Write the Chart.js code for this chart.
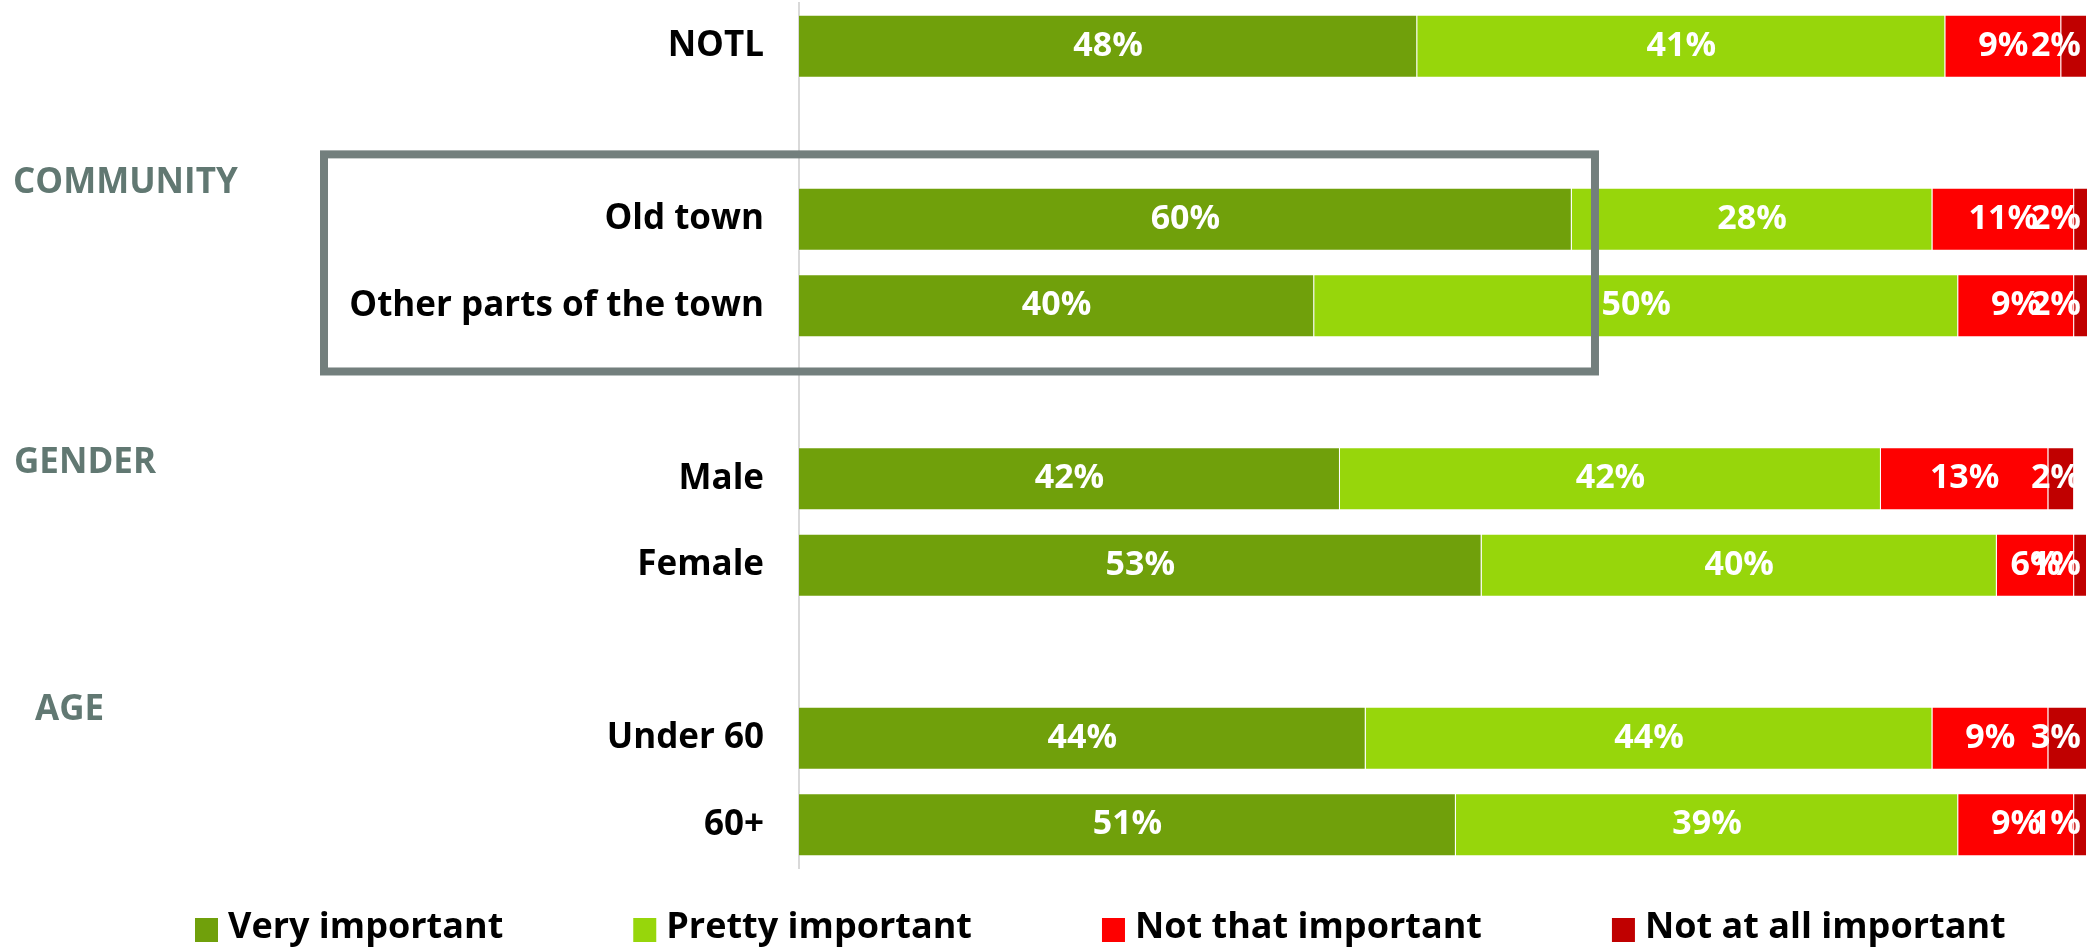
<!DOCTYPE html>
<html>
<head>
<meta charset="utf-8">
<title>Importance by group</title>
<script src="https://cdn.jsdelivr.net/npm/chart.js@4.4.1/dist/chart.umd.min.js"></script>
<style>
  html, body { margin: 0; padding: 0; background: #fff; }
  #wrap { position: relative; width: 2087px; height: 947px; }
</style>
</head>
<body>
<div id="wrap"><canvas id="importanceChart"></canvas></div>
<script>
// rows of the chart, blank entries leave a gap between groups
const categories = ['NOTL', '', 'Old town', 'Other parts of the town', '', 'Male', 'Female', '', 'Under 60', '60+'];

const seriesNames = ['Very important', 'Pretty important', 'Not that important', 'Not at all important'];
const veryImportant = [48, null, 60, 40, null, 42, 53, null, 44, 51];
const prettyImportant = [41, null, 28, 50, null, 42, 40, null, 44, 39];
const notThatImportant = [9, null, 11, 9, null, 13, 6, null, 9, 9];
const notAtAllImportant = [2, null, 2, 2, null, 2, 1, null, 3, 1];
const seriesColors = ['#70a00b', '#97d60b', '#fe0000', '#c00000'];

// group headings placed on the category scale (index units)
const groupNames = ['COMMUNITY', 'GENDER', 'AGE'];
const groupAt = [1.58, 4.815, 7.67];
const groupLeft = [13, 14, 35];

const FONT = '"Open Sans", "DejaVu Sans", sans-serif';

const valueLabels = {
  id: 'valueLabels',
  afterDatasetsDraw(chart) {
    const ctx = chart.ctx;
    const area = chart.chartArea;
    ctx.save();
    ctx.font = '700 34px ' + FONT;
    ctx.fillStyle = '#ffffff';
    ctx.textAlign = 'center';
    ctx.textBaseline = 'middle';
    chart.data.datasets.forEach((ds, di) => {
      const meta = chart.getDatasetMeta(di);
      meta.data.forEach((bar, i) => {
        const v = ds.data[i];
        if (v == null) return;
        const txt = v + '%';
        const w = ctx.measureText(txt).width;
        let x = (bar.x + bar.base) / 2;
        x = Math.min(x, area.right - 6 - w / 2);
        ctx.fillText(txt, x, bar.y);
      });
    });
    ctx.restore();
  }
};

const groupFrame = {
  id: 'groupFrame',
  afterDatasetsDraw(chart) {
    const ctx = chart.ctx;
    const y = chart.scales.y;
    const x = chart.scales.x;
    const top = y.getPixelForValue(1.25);
    const bottom = y.getPixelForValue(3.76);
    const left = 324;
    const right = x.getPixelForValue(61.8);
    ctx.save();
    ctx.strokeStyle = '#737f7d';
    ctx.lineWidth = 8;
    ctx.strokeRect(left, top, right - left, bottom - top);

    ctx.font = '700 35px ' + FONT;
    ctx.fillStyle = '#617872';
    ctx.textAlign = 'left';
    ctx.textBaseline = 'middle';
    groupNames.forEach((name, i) => {
      ctx.fillText(name, groupLeft[i], y.getPixelForValue(groupAt[i]));
    });
    ctx.restore();
  }
};

const bottomLegend = {
  id: 'bottomLegend',
  afterDraw(chart) {
    const ctx = chart.ctx;
    ctx.save();
    ctx.font = '700 36px ' + FONT;
    ctx.textAlign = 'left';
    ctx.textBaseline = 'alphabetic';
    let cx = 195;
    chart.data.datasets.forEach((ds) => {
      ctx.fillStyle = ds.backgroundColor;
      ctx.fillRect(cx, 918, 23, 24);
      ctx.fillStyle = '#000000';
      ctx.fillText(ds.label, cx + 33, 938);
      cx += 33 + ctx.measureText(ds.label).width + 130;
    });
    ctx.restore();
  }
};

const seriesValues = [veryImportant, prettyImportant, notThatImportant, notAtAllImportant];

const config = {
  type: 'bar',
  data: {
    labels: categories,
    datasets: seriesNames.map((name, i) => ({
      label: name,
      data: seriesValues[i],
      backgroundColor: seriesColors[i],
      borderColor: 'rgba(255,255,255,0.35)',
      borderWidth: 1,
      barPercentage: 0.73,
      categoryPercentage: 1
    }))
  },
  options: {
    indexAxis: 'y',
    responsive: true,
    maintainAspectRatio: false,
    animation: false,
    layout: { padding: { top: 3, bottom: 79, left: 0, right: 0 } },
    plugins: {
      legend: { display: false },
      tooltip: { enabled: false }
    },
    scales: {
      x: {
        stacked: true,
        min: 0,
        max: 100,
        display: false
      },
      y: {
        stacked: true,
        grid: { display: false, drawTicks: false },
        border: { display: true, color: '#d9d9d9', width: 2 },
        ticks: {
          color: '#000000',
          padding: 35,
          font: { family: FONT, size: 35, weight: '700' }
        },
        afterFit(scale) {
          scale.width = 799;
          // labels sit inside their rows, no extra room above or below
          scale.paddingTop = 0;
          scale.paddingBottom = 0;
        }
      }
    }
  },
  plugins: [valueLabels, groupFrame, bottomLegend]
};

new Chart(document.getElementById('importanceChart'), config);
</script>
</body>
</html>
